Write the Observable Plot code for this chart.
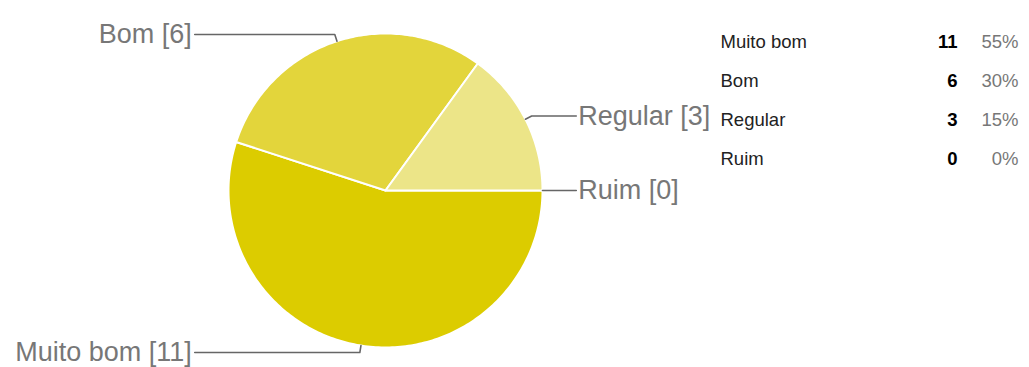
<!DOCTYPE html>
<html><head><meta charset="utf-8">
<script src="https://cdn.jsdelivr.net/npm/d3@7"></script>
<script src="https://cdn.jsdelivr.net/npm/@observablehq/plot@0.6"></script>
<style>body{margin:0;background:#fff;overflow:hidden}</style>
</head><body><div id="chart"></div>
<script>
const categories = ["Muito bom", "Bom", "Regular", "Ruim"];
const counts = [11, 6, 3, 0];
const colors = ["#dccc00", "#e3d53b", "#ece588", "#f4efb8"];

// layout
const W = 1029, H = 367, cx = 385, cy = 190, R = 157;
const px2x = p => (p - cx) / R, px2y = p => (p - cy) / R;
const total = d3.sum(counts);
let cum = 0;
const slices = categories.map((name, i) => {
  const a0 = cum / total * 2 * Math.PI; cum += counts[i];
  const a1 = cum / total * 2 * Math.PI;
  return {name, value: counts[i], a0, a1, mid: (a0 + a1) / 2, i, pct: Math.round(counts[i] / total * 100) + "%"};
});

const polys = [];
slices.filter(s => s.value > 0).forEach(s => {
  const n = Math.max(2, Math.ceil((s.a1 - s.a0) / (Math.PI / 180)));
  polys.push({name: s.name, x: 0, y: 0});
  for (let k = 0; k <= n; k++) {
    const a = s.a0 + (s.a1 - s.a0) * k / n;
    polys.push({name: s.name, x: Math.cos(a), y: Math.sin(a)});
  }
});

const leaders = [], labels = [];
slices.forEach(s => {
  const c = Math.cos(s.mid), sn = Math.sin(s.mid);
  const side = c < 0 ? -1 : 1;
  const ex = c * 1.045, ey = sn * 1.045;
  const endX = side * 1.215;
  leaders.push({name: s.name, x: c, y: sn}, {name: s.name, x: ex, y: ey}, {name: s.name, x: endX, y: ey});
  labels.push({name: s.name, x: endX, y: ey, side, text: `${s.name} [${s.value}]`});
});

const rowY = i => px2y(42 + i * 38.7);

const plot = Plot.plot({
  width: W, height: H, margin: 0,
  x: {domain: [px2x(0), px2x(W)], range: [0, W], axis: null},
  y: {domain: [px2y(0), px2y(H)], range: [0, H], axis: null},
  color: {domain: categories, range: colors},
  style: {fontFamily: "Arial, 'Liberation Sans', sans-serif", background: "#fff"},
  marks: [
    Plot.line(polys, {x: "x", y: "y", z: "name", fill: "name", stroke: "#fff", strokeWidth: 2, curve: "linear-closed", strokeLinejoin: "round"}),
    Plot.line(leaders, {x: "x", y: "y", z: "name", stroke: "#666", strokeWidth: 1.6}),
    Plot.text(labels.filter(d => d.side < 0), {x: "x", y: "y", text: "text", textAnchor: "end", dx: -3, fontSize: 27, fill: "#777"}),
    Plot.text(labels.filter(d => d.side > 0), {x: "x", y: "y", text: "text", textAnchor: "start", dx: 2, fontSize: 27, fill: "#777"}),
    Plot.text(slices, {x: () => px2x(720), y: d => rowY(d.i), text: "name", textAnchor: "start", fontSize: 18.5, fill: "#222"}),
    Plot.text(slices, {x: () => px2x(957), y: d => rowY(d.i), text: d => String(d.value), textAnchor: "end", fontSize: 18.5, fontWeight: "bold", fill: "#000"}),
    Plot.text(slices, {x: () => px2x(1018), y: d => rowY(d.i), text: "pct", textAnchor: "end", fontSize: 18.5, fill: "#777"})
  ]
});
document.getElementById("chart").append(plot);
</script>
</body></html>
